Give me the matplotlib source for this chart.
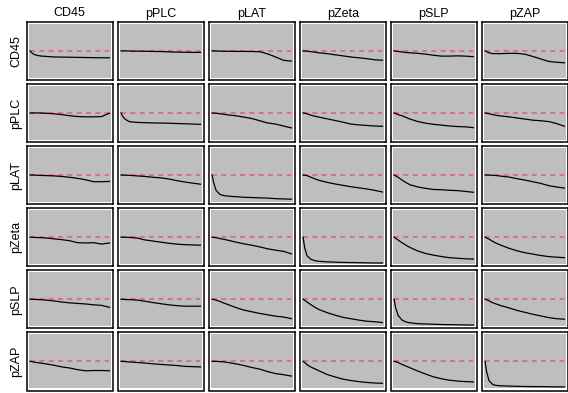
import matplotlib
matplotlib.use("Agg")
import matplotlib.pyplot as plt
from matplotlib.patches import Rectangle

plt.rcParams['font.family'] = ['Liberation Sans', 'DejaVu Sans']

markers = ["CD45", "pPLC", "pLAT", "pZeta", "pSLP", "pZAP"]
x_grid = [0, 0.02, 0.05, 0.1, 0.15, 0.2, 0.3, 0.4, 0.5, 0.6, 0.7, 0.8, 0.9, 1.0]
reference_level = 1.0

row_CD45 = [
    [1, 0.93, 0.87, 0.83, 0.81, 0.80, 0.78, 0.775, 0.77, 0.765, 0.76, 0.755, 0.75, 0.75],
    [1, 1, 1, 0.995, 0.99, 0.99, 0.985, 0.98, 0.975, 0.965, 0.955, 0.95, 0.945, 0.945],
    [1, 1, 0.995, 0.99, 0.985, 0.985, 0.98, 0.98, 0.975, 0.97, 0.89, 0.78, 0.66, 0.63],
    [1, 0.995, 0.99, 0.97, 0.95, 0.93, 0.9, 0.86, 0.82, 0.78, 0.75, 0.72, 0.68, 0.66],
    [1, 0.99, 0.98, 0.96, 0.94, 0.93, 0.91, 0.88, 0.84, 0.81, 0.81, 0.82, 0.81, 0.79],
    [1, 0.97, 0.93, 0.9, 0.9, 0.9, 0.91, 0.91, 0.88, 0.8, 0.71, 0.62, 0.59, 0.57],
]
row_pPLC = [
    [1, 1, 1, 1, 0.995, 0.99, 0.97, 0.94, 0.9, 0.87, 0.86, 0.86, 0.87, 0.99],
    [1, 0.88, 0.78, 0.69, 0.67, 0.66, 0.65, 0.64, 0.635, 0.63, 0.62, 0.61, 0.6, 0.59],
    [1, 0.995, 0.99, 0.97, 0.95, 0.93, 0.9, 0.85, 0.8, 0.72, 0.64, 0.6, 0.53, 0.46],
    [1, 0.99, 0.97, 0.92, 0.88, 0.85, 0.79, 0.73, 0.67, 0.6, 0.57, 0.55, 0.53, 0.52],
    [1, 0.98, 0.94, 0.9, 0.84, 0.78, 0.69, 0.63, 0.59, 0.56, 0.53, 0.51, 0.5, 0.47],
    [1, 0.99, 0.97, 0.94, 0.91, 0.89, 0.86, 0.82, 0.78, 0.74, 0.72, 0.69, 0.62, 0.52],
]
row_pLAT = [
    [1, 1, 1, 0.99, 0.985, 0.98, 0.97, 0.95, 0.92, 0.88, 0.83, 0.76, 0.76, 0.77],
    [1, 1, 0.995, 0.99, 0.98, 0.97, 0.95, 0.92, 0.9, 0.86, 0.8, 0.75, 0.71, 0.67],
    [1, 0.73, 0.45, 0.3, 0.26, 0.24, 0.22, 0.2, 0.19, 0.18, 0.17, 0.15, 0.14, 0.13],
    [1, 0.995, 0.98, 0.92, 0.86, 0.81, 0.74, 0.68, 0.63, 0.58, 0.54, 0.5, 0.45, 0.39],
    [1, 0.97, 0.92, 0.82, 0.73, 0.65, 0.57, 0.52, 0.48, 0.47, 0.45, 0.44, 0.41, 0.38],
    [1, 1, 1, 0.99, 0.98, 0.96, 0.93, 0.87, 0.82, 0.76, 0.7, 0.62, 0.57, 0.53],
]
row_pZeta = [
    [1, 1, 0.99, 0.985, 0.98, 0.97, 0.94, 0.91, 0.87, 0.8, 0.79, 0.8, 0.75, 0.79],
    [1, 1, 0.995, 0.99, 0.98, 0.97, 0.9, 0.86, 0.82, 0.78, 0.75, 0.73, 0.72, 0.71],
    [1, 0.99, 0.98, 0.95, 0.92, 0.89, 0.82, 0.76, 0.71, 0.65, 0.58, 0.53, 0.49, 0.4],
    [1, 0.62, 0.33, 0.2, 0.15, 0.13, 0.11, 0.1, 0.09, 0.085, 0.08, 0.075, 0.07, 0.07],
    [1, 0.96, 0.9, 0.8, 0.71, 0.63, 0.5, 0.41, 0.35, 0.3, 0.26, 0.24, 0.22, 0.21],
    [1, 0.97, 0.93, 0.84, 0.77, 0.71, 0.6, 0.51, 0.44, 0.39, 0.34, 0.3, 0.28, 0.26],
]
row_pSLP = [
    [1, 1, 0.995, 0.99, 0.98, 0.97, 0.94, 0.9, 0.87, 0.85, 0.83, 0.8, 0.78, 0.71],
    [1, 1, 0.99, 0.985, 0.98, 0.97, 0.93, 0.88, 0.84, 0.8, 0.77, 0.75, 0.75, 0.75],
    [1, 0.99, 0.97, 0.92, 0.86, 0.81, 0.7, 0.61, 0.55, 0.49, 0.44, 0.39, 0.36, 0.3],
    [1, 0.96, 0.9, 0.8, 0.71, 0.63, 0.52, 0.43, 0.35, 0.3, 0.25, 0.21, 0.19, 0.16],
    [1, 0.7, 0.42, 0.25, 0.18, 0.15, 0.12, 0.11, 0.1, 0.09, 0.085, 0.08, 0.075, 0.07],
    [1, 0.98, 0.94, 0.87, 0.82, 0.77, 0.69, 0.6, 0.53, 0.46, 0.4, 0.34, 0.3, 0.28],
]
row_pZAP = [
    [1, 0.99, 0.97, 0.95, 0.93, 0.91, 0.86, 0.8, 0.76, 0.7, 0.66, 0.67, 0.67, 0.66],
    [1, 1, 0.99, 0.98, 0.97, 0.96, 0.94, 0.91, 0.89, 0.87, 0.85, 0.82, 0.81, 0.8],
    [1, 1, 1, 0.99, 0.98, 0.96, 0.91, 0.85, 0.78, 0.72, 0.63, 0.56, 0.52, 0.47],
    [1, 0.96, 0.88, 0.79, 0.73, 0.66, 0.53, 0.44, 0.36, 0.31, 0.27, 0.24, 0.22, 0.21],
    [1, 0.99, 0.96, 0.89, 0.83, 0.77, 0.65, 0.54, 0.44, 0.37, 0.32, 0.29, 0.27, 0.26],
    [1, 0.62, 0.3, 0.16, 0.13, 0.12, 0.11, 0.1, 0.095, 0.09, 0.09, 0.085, 0.08, 0.08],
]
rows = [row_CD45, row_pPLC, row_pLAT, row_pZeta, row_pSLP, row_pZAP]

W, H = 568, 393
fig = plt.figure(figsize=(W / 100, H / 100), dpi=100)
fig.patch.set_facecolor("white")

col_left0, col_step, col_w = 26.5, 91.0, 86.5
row_top0, row_step, row_h = 21.7, 62.1, 58.3

for r in range(6):
    for c in range(6):
        left = col_left0 + c * col_step
        top = row_top0 + r * row_step
        ax = fig.add_axes([left / W, 1 - (top + row_h) / H, col_w / W, row_h / H])
        ax.set_facecolor("white")
        ax.add_patch(Rectangle((0.024, 0.035), 0.952, 0.93, transform=ax.transAxes,
                               facecolor="#BEBEBE", edgecolor="none", zorder=0))
        ax.plot([x_grid[0], x_grid[-1]], [reference_level, reference_level],
                color="#E2627A", lw=1.2, dashes=(3, 2.6), zorder=2)
        ax.plot(x_grid, rows[r][c], color="black", lw=0.9, zorder=3)
        ax.set_xlim(-0.045, 1.045)
        ax.set_ylim(-0.05, 2.05)
        ax.set_xticks([])
        ax.set_yticks([])
        for s in ax.spines.values():
            s.set_color("black")
            s.set_linewidth(1.1)
        if r == 0:
            fig.text((left + col_w / 2) / W, 1 - 13.5 / H, markers[c],
                     ha="center", va="center", fontsize=9)
        if c == 0:
            fig.text(16.5 / W, 1 - (top + row_h / 2) / H, markers[r],
                     ha="center", va="center", rotation=90, fontsize=9)

fig.savefig("out.png", dpi=100)
